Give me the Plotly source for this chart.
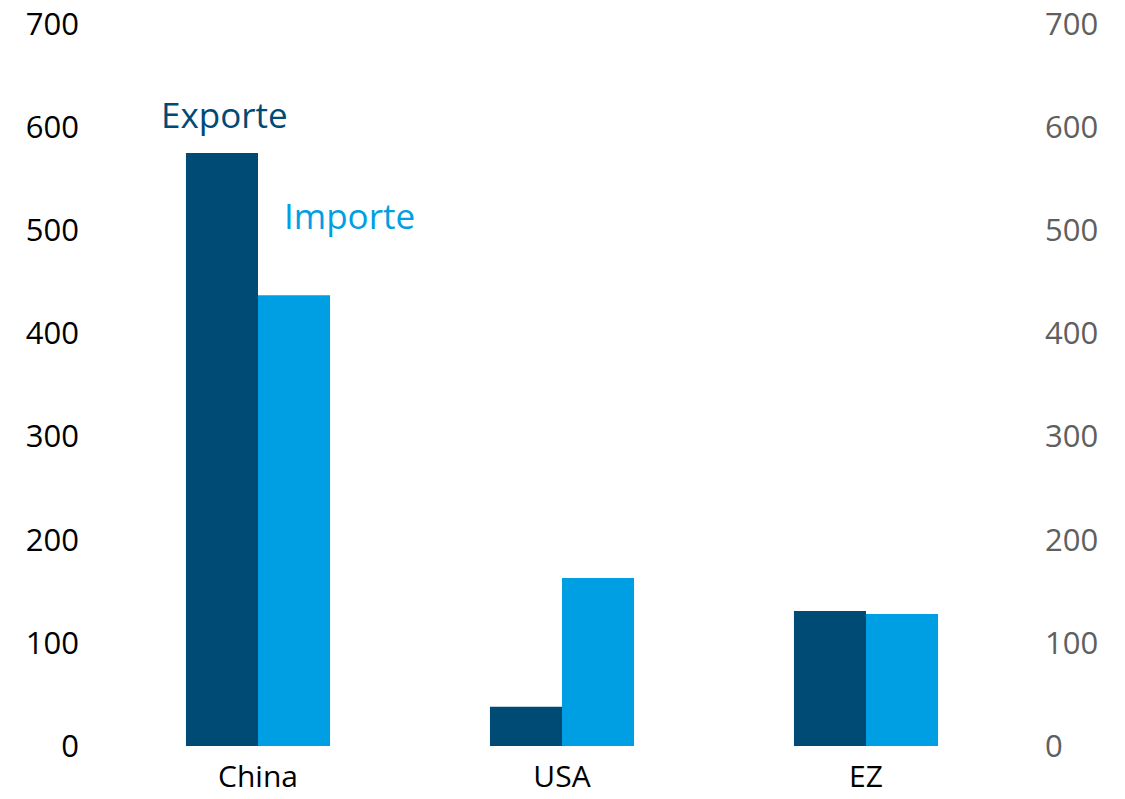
import plotly.graph_objects as go

categories = ["China", "USA", "EZ"]
exporte = [575, 38, 131]
importe = [437, 163, 128]
tick_vals = [0, 100, 200, 300, 400, 500, 600, 700]

dark = "#004b76"
light = "#009fe3"
font_family = "Open Sans"

fig = go.Figure()
fig.add_trace(go.Bar(x=categories, y=exporte, name="Exporte", marker=dict(color=dark, line=dict(width=0))))
fig.add_trace(go.Bar(x=categories, y=importe, name="Importe", marker=dict(color=light, line=dict(width=0))))
# invisible trace to activate right axis
fig.add_trace(go.Scatter(x=categories, y=exporte, yaxis="y2", mode="markers",
                         marker=dict(opacity=0), hoverinfo="skip", showlegend=False))

fig.update_layout(
    width=1125, height=799,
    margin=dict(l=106, r=107, t=24, b=53),
    paper_bgcolor="white", plot_bgcolor="white",
    barmode="group", bargap=0.526, bargroupgap=0,
    showlegend=False,
    font=dict(family=font_family, size=31, color="black"),
    xaxis=dict(showgrid=False, zeroline=False, showline=False, ticks="", automargin=False,
               tickfont=dict(size=30, color="black"), ticklabelstandoff=10),
    yaxis=dict(range=[0, 700], tickvals=tick_vals, showgrid=False, zeroline=False,
               showline=False, ticks="", automargin=False, tickfont=dict(size=31, color="black"),
               ticklabelstandoff=26),
    yaxis2=dict(range=[0, 700], tickvals=tick_vals, overlaying="y", side="right",
                showgrid=False, zeroline=False, showline=False, ticks="", automargin=False,
                tickfont=dict(size=31, color="#5f5f5f"), ticklabelstandoff=26),
    annotations=[
        dict(x=-0.326, y=612, xref="x", yref="y", text="Exporte", showarrow=False,
             xanchor="left", yanchor="middle", font=dict(size=35, color=dark)),
        dict(x=0.079, y=514, xref="x", yref="y", text="Importe", showarrow=False,
             xanchor="left", yanchor="middle", font=dict(size=35, color=light)),
    ],
)

fig.write_html("out.html")
